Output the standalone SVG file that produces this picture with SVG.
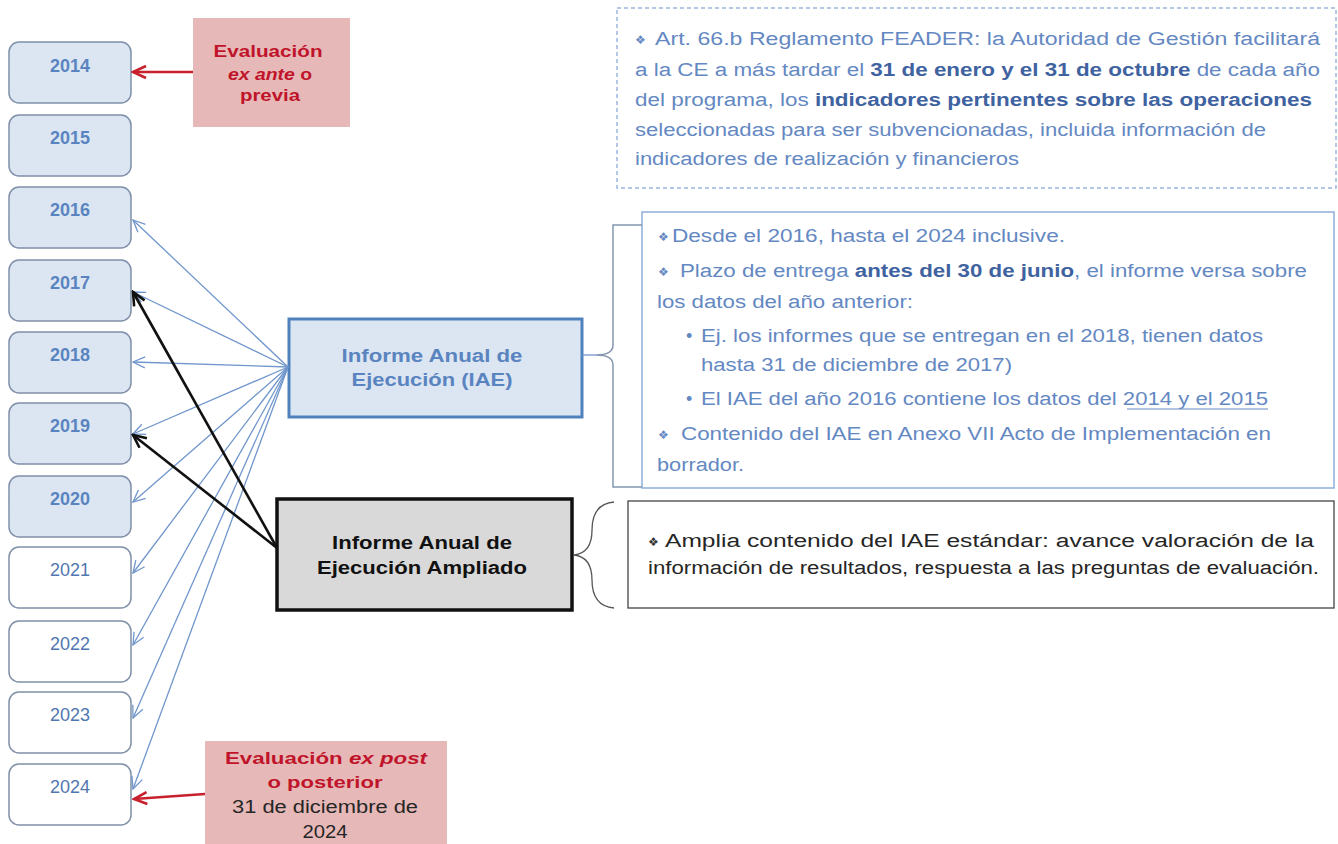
<svg xmlns="http://www.w3.org/2000/svg" width="1338" height="844" viewBox="0 0 1338 844">
<defs>
<style>
.yf{fill:#dce6f2;stroke:#7f90a8;stroke-width:1.5}
.ye{fill:#ffffff;stroke:#7f90a8;stroke-width:1.5}
.ytb{font-family:'Liberation Sans',Arial,sans-serif;font-size:18px;font-weight:bold;fill:#5a84c0;text-anchor:middle}
.ytn{font-family:'Liberation Sans',Arial,sans-serif;font-size:18px;fill:#5177b0;text-anchor:middle}
.t{font-family:'Liberation Sans',Arial,sans-serif;font-size:18px;fill:#6488c2}
.tb{font-weight:bold;fill:#3f62a0}
.bul{font-family:'DejaVu Sans',sans-serif;font-size:12px;fill:#6488c2}
.k{font-family:'Liberation Sans',Arial,sans-serif;font-size:18px;fill:#262626}
.red{font-family:'Liberation Sans',Arial,sans-serif;font-size:17px;font-weight:bold;fill:#c0142a;text-anchor:middle}
.blue{fill:none;stroke:#7096cc;stroke-width:1.3}
.blk{fill:none;stroke:#111;stroke-width:2.6}
.rd{fill:none;stroke:#c8202c;stroke-width:2.6}
</style>
<marker id="ab" viewBox="0 0 14 14" refX="13" refY="7" markerWidth="14" markerHeight="14" markerUnits="userSpaceOnUse" orient="auto"><path d="M1,1.5 L13,7 L1,12.5" fill="none" stroke="#7096cc" stroke-width="1.3"/></marker>
<marker id="ak" viewBox="0 0 16 16" refX="14" refY="8" markerWidth="16" markerHeight="16" markerUnits="userSpaceOnUse" orient="auto"><path d="M1,2 L14,8 L1,14" fill="none" stroke="#111" stroke-width="2.6"/></marker>
<marker id="ar" viewBox="0 0 16 16" refX="14" refY="8" markerWidth="16" markerHeight="16" markerUnits="userSpaceOnUse" orient="auto"><path d="M1,2 L14,8 L1,14" fill="none" stroke="#c8202c" stroke-width="2.6"/></marker>
</defs>
<rect width="1338" height="844" fill="#ffffff"/>

<g id="y2014"><rect class="yf" x="9" y="42" width="122" height="61" rx="10"/><text class="ytb" x="70" y="72">2014</text></g>
<g id="y2015"><rect class="yf" x="9" y="115" width="122" height="61" rx="10"/><text class="ytb" x="70" y="144">2015</text></g>
<g id="y2016"><rect class="yf" x="9" y="187" width="122" height="61" rx="10"/><text class="ytb" x="70" y="216">2016</text></g>
<g id="y2017"><rect class="yf" x="9" y="260" width="122" height="61" rx="10"/><text class="ytb" x="70" y="289">2017</text></g>
<g id="y2018"><rect class="yf" x="9" y="332" width="122" height="61" rx="10"/><text class="ytb" x="70" y="361">2018</text></g>
<g id="y2019"><rect class="yf" x="9" y="403" width="122" height="61" rx="10"/><text class="ytb" x="70" y="432">2019</text></g>
<g id="y2020"><rect class="yf" x="9" y="476" width="122" height="61" rx="10"/><text class="ytb" x="70" y="505">2020</text></g>
<g id="y2021"><rect class="ye" x="9" y="547" width="122" height="61" rx="10"/><text class="ytn" x="70" y="576">2021</text></g>
<g id="y2022"><rect class="ye" x="9" y="621" width="122" height="61" rx="10"/><text class="ytn" x="70" y="650">2022</text></g>
<g id="y2023"><rect class="ye" x="9" y="692" width="122" height="61" rx="10"/><text class="ytn" x="70" y="721">2023</text></g>
<g id="y2024"><rect class="ye" x="9" y="764" width="122" height="61" rx="10"/><text class="ytn" x="70" y="793">2024</text></g>

<g id="exante">
<rect x="193" y="18" width="157" height="109" fill="#e6b9b8"/>
<text class="red" x="268" y="57" textLength="109" lengthAdjust="spacingAndGlyphs">Evaluación</text>
<text class="red" x="270" y="80" textLength="84" lengthAdjust="spacingAndGlyphs"><tspan font-style="italic">ex ante</tspan> o</text>
<text class="red" x="270" y="101" textLength="60" lengthAdjust="spacingAndGlyphs">previa</text>
</g>

<g id="expost">
<rect x="205" y="741" width="242" height="110" fill="#e6b9b8"/>
<text class="red" x="326" y="764" textLength="202" lengthAdjust="spacingAndGlyphs">Evaluación <tspan font-style="italic">ex post</tspan></text>
<text class="red" x="325" y="788" textLength="115" lengthAdjust="spacingAndGlyphs">o posterior</text>
<text class="k" x="325" y="813" text-anchor="middle" fill="#333" textLength="186" lengthAdjust="spacingAndGlyphs">31 de diciembre de</text>
<text class="k" x="325" y="838" text-anchor="middle" fill="#333" textLength="45" lengthAdjust="spacingAndGlyphs">2024</text>
</g>

<g id="art66">
<rect x="617" y="8" width="719" height="180" fill="#ffffff" stroke="#9bb7de" stroke-width="1.5" stroke-dasharray="4,3"/>
<text class="bul" x="635" y="44">❖</text>
<text class="t" x="655" y="45" textLength="665" lengthAdjust="spacingAndGlyphs">Art. 66.b  Reglamento FEADER: la Autoridad de Gestión facilitará</text>
<text class="t" x="635" y="76" textLength="685" lengthAdjust="spacingAndGlyphs">a la CE a más tardar el <tspan class="tb">31 de enero y el 31 de octubre</tspan> de cada año</text>
<text class="t" x="635" y="106" textLength="677" lengthAdjust="spacingAndGlyphs">del programa, los <tspan class="tb">indicadores pertinentes sobre las operaciones</tspan></text>
<text class="t" x="635" y="136" textLength="631" lengthAdjust="spacingAndGlyphs">seleccionadas para ser subvencionadas, incluida información de</text>
<text class="t" x="635" y="165" textLength="384" lengthAdjust="spacingAndGlyphs">indicadores de realización y financieros</text>
</g>

<g id="iae">
<rect x="289" y="319" width="293" height="98" fill="#dce6f2" stroke="#4f81bd" stroke-width="3"/>
<text class="ytb" x="432" y="362" textLength="181" lengthAdjust="spacingAndGlyphs">Informe Anual de</text>
<text class="ytb" x="432" y="386" textLength="161" lengthAdjust="spacingAndGlyphs">Ejecución (IAE)</text>
</g>

<g id="iae-detalle">
<rect x="642" y="212" width="692" height="276" fill="#ffffff" stroke="#8eb0dd" stroke-width="1.5"/>
<text class="bul" x="658" y="241">❖</text>
<text class="t" x="672" y="242" textLength="393" lengthAdjust="spacingAndGlyphs">Desde el 2016, hasta el 2024 inclusive.</text>
<text class="bul" x="658" y="276">❖</text>
<text class="t" x="680" y="277" textLength="627" lengthAdjust="spacingAndGlyphs">Plazo de entrega <tspan class="tb">antes del 30 de junio</tspan>, el informe versa sobre</text>
<text class="t" x="657" y="308" textLength="256" lengthAdjust="spacingAndGlyphs">los datos  del año anterior:</text>
<text class="t" x="686" y="342">•</text>
<text class="t" x="701" y="342" textLength="562" lengthAdjust="spacingAndGlyphs">Ej. los informes que se entregan en el 2018, tienen datos</text>
<text class="t" x="701" y="371" textLength="311" lengthAdjust="spacingAndGlyphs">hasta 31 de diciembre de 2017)</text>
<text class="t" x="686" y="405">•</text>
<text class="t" x="701" y="405" textLength="567" lengthAdjust="spacingAndGlyphs">El IAE del año 2016 contiene los datos del 2014 y el 2015</text>
<line x1="1127" y1="409" x2="1268" y2="409" stroke="#6488c2" stroke-width="1.2"/>
<text class="bul" x="658" y="439">❖</text>
<text class="t" x="681" y="440" textLength="590" lengthAdjust="spacingAndGlyphs">Contenido del IAE en Anexo VII Acto de Implementación en</text>
<text class="t" x="657" y="471" textLength="87" lengthAdjust="spacingAndGlyphs">borrador.</text>
</g>

<g id="ampliado">
<rect x="277" y="499" width="295" height="111" fill="#d9d9d9" stroke="#111" stroke-width="3.5"/>
<text class="ytb" x="422" y="549" fill="#111" style="fill:#111" textLength="180" lengthAdjust="spacingAndGlyphs">Informe Anual de</text>
<text class="ytb" x="422" y="574" style="fill:#111" textLength="210" lengthAdjust="spacingAndGlyphs">Ejecución Ampliado</text>
</g>

<g id="ampliado-detalle">
<rect x="628" y="501" width="706" height="107" fill="#ffffff" stroke="#444" stroke-width="1.3"/>
<text class="bul" x="648" y="546" style="fill:#333">❖</text>
<text class="k" x="665" y="547" textLength="649" lengthAdjust="spacingAndGlyphs">Amplia contenido del IAE  estándar:  avance valoración de la</text>
<text class="k" x="648" y="574" textLength="671" lengthAdjust="spacingAndGlyphs">información de resultados, respuesta  a las preguntas de evaluación.</text>
</g>

<g id="connectors">
<path class="blue" d="M582,355 L596,355"/>
<path d="M642,225 L613,225 L613,345 Q613,355 596,355 Q613,355 613,365 L613,487 L642,487" fill="none" stroke="#8496b0" stroke-width="1.5"/>
<path d="M614,502 Q592,504 592,530 Q592,553 574,555 Q592,557 592,580 Q592,606 614,608" fill="none" stroke="#555" stroke-width="1.3"/>
<line class="blue" x1="288" y1="367" x2="133" y2="220" marker-end="url(#ab)"/>
<line class="blue" x1="288" y1="367" x2="133" y2="292" marker-end="url(#ab)"/>
<line class="blue" x1="288" y1="367" x2="133" y2="362" marker-end="url(#ab)"/>
<line class="blue" x1="288" y1="367" x2="133" y2="434" marker-end="url(#ab)"/>
<line class="blue" x1="288" y1="367" x2="133" y2="502" marker-end="url(#ab)"/>
<line class="blue" x1="288" y1="367" x2="133" y2="573" marker-end="url(#ab)"/>
<line class="blue" x1="288" y1="367" x2="133" y2="645" marker-end="url(#ab)"/>
<line class="blue" x1="288" y1="367" x2="133" y2="718" marker-end="url(#ab)"/>
<line class="blue" x1="288" y1="367" x2="133" y2="789" marker-end="url(#ab)"/>
<line class="blk" x1="277" y1="548" x2="133" y2="292" marker-end="url(#ak)"/>
<line class="blk" x1="277" y1="548" x2="133" y2="435" marker-end="url(#ak)"/>
<line class="rd" x1="193" y1="72" x2="133" y2="72" marker-end="url(#ar)"/>
<line class="rd" x1="205" y1="794" x2="134" y2="799" marker-end="url(#ar)"/>
</g>
</svg>
